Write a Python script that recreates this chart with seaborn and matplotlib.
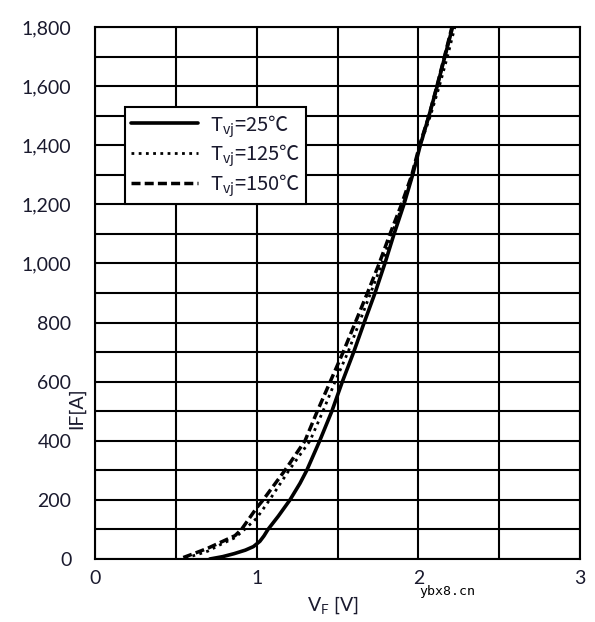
import numpy as np
import pandas as pd
import matplotlib
matplotlib.use("Agg")
import matplotlib.pyplot as plt
from matplotlib.ticker import MultipleLocator, FuncFormatter
import seaborn as sns

# ---- data ----
v_25 = [0.71, 0.79, 0.86, 0.93, 0.98, 1.02, 1.045, 1.07, 1.134, 1.206, 1.268, 1.31, 1.39, 1.465,
        1.53, 1.60, 1.665, 1.732, 1.793, 1.85, 1.911, 1.965, 2.012, 2.066, 2.117, 2.164, 2.212]
i_25 = [0, 8, 18, 30, 42, 60, 78, 100, 145, 200, 256, 300, 400, 500,
        600, 700, 800, 900, 1000, 1100, 1200, 1300, 1400, 1500, 1600, 1700, 1800]

v_125 = [0.56, 0.65, 0.70, 0.773, 0.866, 0.925, 1.0, 1.08, 1.2, 1.33, 1.41, 1.485, 1.565,
         1.635, 1.705, 1.775, 1.835, 1.905, 1.965, 2.012, 2.075, 2.13, 2.18, 2.226]
i_125 = [3, 18, 27, 48, 72, 100, 138, 200, 300, 400, 500, 600, 700,
         800, 900, 1000, 1100, 1200, 1300, 1400, 1500, 1600, 1700, 1800]

v_150 = [0.546, 0.62, 0.70, 0.866, 0.906, 1.0, 1.04, 1.175, 1.299, 1.375, 1.455, 1.535,
         1.61, 1.685, 1.758, 1.825, 1.896, 1.96, 2.008, 2.066, 2.115, 2.162, 2.208]
i_150 = [5, 20, 37, 79, 100, 173, 200, 300, 400, 500, 600, 700,
         800, 900, 1000, 1100, 1200, 1300, 1400, 1500, 1600, 1700, 1800]

labels = ["T$_{\\mathregular{vj}}$=25℃", "T$_{\\mathregular{vj}}$=125℃", "T$_{\\mathregular{vj}}$=150℃"]
x_ticks = [0, 1, 2, 3]
y_ticks = [0, 200, 400, 600, 800, 1000, 1200, 1400, 1600, 1800]

# ---- style ----
sns.set_style("white")
plt.rcParams["font.family"] = ["Lato", "DejaVu Sans"]
txt_color = "#1a1a2e"

fig = plt.figure(figsize=(5.95, 6.22), dpi=100)
ax = fig.add_axes([95 / 595, 1 - 559 / 622, 485 / 595, 532 / 622])

df25 = pd.DataFrame({"V": v_25, "I": i_25})
df125 = pd.DataFrame({"V": v_125, "I": i_125})
df150 = pd.DataFrame({"V": v_150, "I": i_150})

sns.lineplot(data=df25, x="V", y="I", ax=ax, color="black", lw=2.6,
             label=labels[0], sort=False, zorder=5, solid_joinstyle="round")
sns.lineplot(data=df125, x="V", y="I", ax=ax, color="black", lw=2.0,
             linestyle=(0, (1, 1.6)), label=labels[1], sort=False, zorder=4)
sns.lineplot(data=df150, x="V", y="I", ax=ax, color="black", lw=2.5,
             linestyle=(0, (2.6, 1.2)), label=labels[2], sort=False, zorder=3)

ax.set_xlim(0, 3)
ax.set_ylim(0, 1800)
ax.set_xticks(x_ticks)
ax.set_yticks(y_ticks)
ax.xaxis.set_minor_locator(MultipleLocator(0.5))
ax.yaxis.set_minor_locator(MultipleLocator(100))
ax.yaxis.set_major_formatter(FuncFormatter(lambda v, p: f"{int(v):,}"))
ax.grid(True, which="both", color="black", lw=1.5)
ax.set_axisbelow(True)
for s in ax.spines.values():
    s.set_color("black")
    s.set_linewidth(1.5)
ax.tick_params(axis="both", which="both", length=0, labelsize=14, colors=txt_color)
ax.tick_params(axis="y", pad=17)
ax.tick_params(axis="x", pad=8)
ax.set_xlabel("")
ax.set_ylabel("")

leg = ax.legend(loc="upper left", bbox_to_anchor=(0.062, 0.85), borderaxespad=0,
                fancybox=False, framealpha=1, edgecolor="black",
                prop={"family": "Noto Sans CJK SC", "size": 14.5},
                handlelength=3.3, handletextpad=0.6, labelspacing=0.2,
                borderpad=0.3, labelcolor=txt_color)
leg.get_frame().set_linewidth(1.5)
leg.set_zorder(10)

fig.text(77 / 595, 1 - 408 / 622, "IF[A]", rotation=90, ha="center", va="center",
         fontsize=14, color=txt_color)
fig.text(333 / 595, 1 - 605 / 622, "V$_{\\mathregular{F}}$ [V]", ha="center", va="center",
         fontsize=14, color=txt_color)
fig.text(447 / 595, 1 - 591 / 622, "ybx8.cn", ha="center", va="center",
         fontsize=9.5, family="DejaVu Sans Mono", color="black")

fig.savefig("out.png", dpi=100)
